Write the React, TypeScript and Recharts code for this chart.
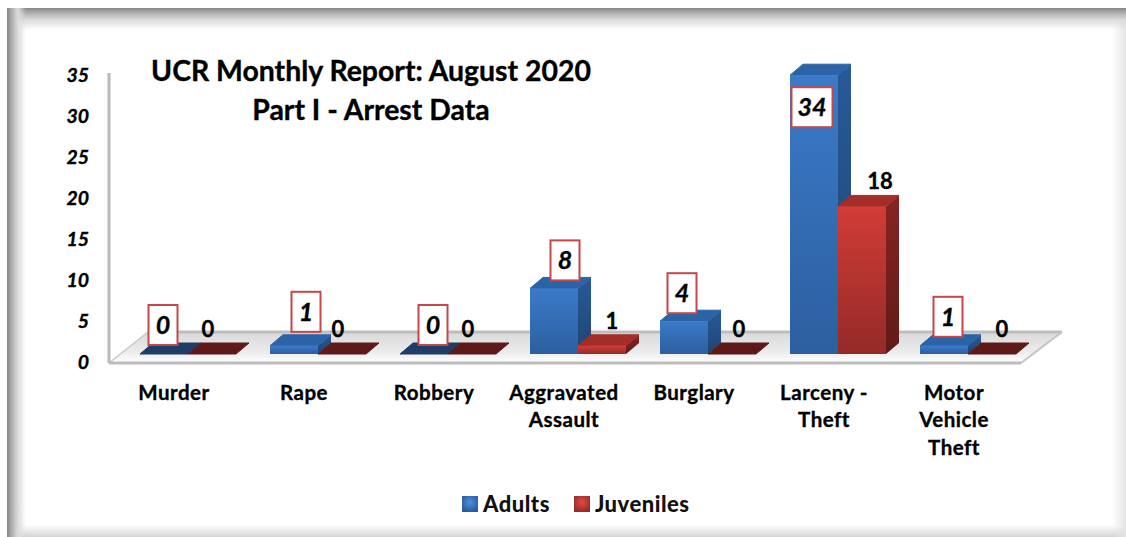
import React from 'react';
import { BarChart, Bar, XAxis, YAxis, Legend, LabelList, usePlotArea } from 'recharts';

const categoryLines = [
  ['Murder'],
  ['Rape'],
  ['Robbery'],
  ['Aggravated', 'Assault'],
  ['Burglary'],
  ['Larceny -', 'Theft'],
  ['Motor', 'Vehicle', 'Theft'],
];
const adults = [0, 1, 0, 8, 4, 34, 1];
const juveniles = [0, 0, 0, 1, 0, 18, 0];
const yTicks = [0, 5, 10, 15, 20, 25, 30, 35];

// hand-placed label offsets, [dx from bar centre, dy from front top of bar]
const adultNudges = [[-1, -9], [12, -14], [9, -9], [11, -8], [-2, -8], [-2, 52], [4, -9]];
const juvenileNudges = [-4, -4, -4, 10, 7, 18, 10];

const chartData = categoryLines.map((lines, i) => ({
  name: lines.join(' '),
  adults: adults[i],
  juveniles: juveniles[i],
}));

const FONT = 'Lato, sans-serif';
const WIDTH = 1126;
const HEIGHT = 537;

// bars stand back from the axis plane, part way into the floor
const SHIFT_X = 14;
const SHIFT_Y = -9;
const DEPTH_X = 13;
const DEPTH_Y = 11;

// thin outline to thicken the bold text
const heavy = { stroke: '#000', strokeWidth: 0.35 };

const Prism = (props: any) => {
  const { x, y, width, height, tone } = props;
  const left = x + SHIFT_X;
  const right = left + width;
  const top = y + SHIFT_Y;
  const bottom = top + height;
  const flat = height < 1;
  const blue = tone === 'blue';
  const topFill = flat ? (blue ? '#1f3d66' : '#5e1a18') : blue ? '#2c62a6' : '#a52d29';
  return (
    <g strokeLinejoin="round">
      <polygon
        points={`${right},${top} ${right + DEPTH_X},${top - DEPTH_Y} ${right + DEPTH_X},${bottom - DEPTH_Y} ${right},${bottom}`}
        fill={`url(#${tone}Side)`}
      />
      <polygon
        points={`${left},${top} ${left + DEPTH_X},${top - DEPTH_Y} ${right + DEPTH_X},${top - DEPTH_Y} ${right},${top}`}
        fill={topFill}
        stroke={topFill}
        strokeWidth={1}
      />
      {!flat && <rect x={left} y={top} width={width} height={height} fill={`url(#${tone}Front)`} />}
    </g>
  );
};

// back edge, side wall and floor of the box the bars stand in
const Floor = () => {
  const plot = usePlotArea();
  if (!plot) return null;
  const l = plot.x;
  const b = plot.y + plot.height;
  const r = plot.x + plot.width + 2;
  const backL = l + 39;
  const backR = r + 41;
  const backY = b - 31;
  return (
    <g>
      <polygon
        points={`${l},${b} ${backL},${backY} ${backR},${backY} ${r},${b}`}
        fill="url(#floorFill)"
      />
      <line x1={backL} y1={backY} x2={backR} y2={backY} stroke="#bdbdbd" strokeWidth={3} />
      <line x1={l} y1={b} x2={backL} y2={backY} stroke="#c8c8c8" strokeWidth={1.5} />
      <line x1={r} y1={b} x2={backR} y2={backY} stroke="#c4c4c4" strokeWidth={2} />
      <line x1={l} y1={b} x2={r} y2={b} stroke="#bcbcbc" strokeWidth={3} />
      <line x1={l} y1={plot.y - 3} x2={l} y2={b} stroke="#b8b8b8" strokeWidth={3} />
    </g>
  );
};

const CategoryTick = ({ x, y, index }: any) => (
  <text x={x} textAnchor="middle" fontFamily={FONT} fontWeight={700} fontSize={20.5} letterSpacing={0.5} fill="#000" {...heavy}>
    {categoryLines[index].map((line, i) => (
      <tspan key={line} x={x} y={y + 34.5 + i * 27.5}>
        {line}
      </tspan>
    ))}
  </text>
);

const AdultLabel = ({ x, y, width, value, index }: any) => {
  const [dx, dy] = adultNudges[index];
  const text = String(value);
  const boxW = text.length > 1 ? 41 : 29;
  const boxH = 40;
  const cx = x + SHIFT_X + width / 2 + dx;
  const boxBottom = y + SHIFT_Y + dy;
  return (
    <g>
      <rect
        x={cx - boxW / 2}
        y={boxBottom - boxH}
        width={boxW}
        height={boxH}
        fill="#fff"
        stroke="#c4474a"
        strokeWidth={2}
      />
      <text
        x={cx}
        y={boxBottom - boxH / 2 + 9}
        textAnchor="middle"
        fontFamily={FONT}
        fontWeight={700}
        fontStyle="italic"
        fontSize={25}
        fill="#000"
        {...heavy}
      >
        {text}
      </text>
    </g>
  );
};

const JuvenileLabel = ({ x, y, width, value, index }: any) => (
  <text
    x={x + SHIFT_X + width / 2 + juvenileNudges[index]}
    y={y + SHIFT_Y - 17}
    textAnchor="middle"
    fontFamily={FONT}
    fontWeight={700}
    fontSize={22}
    fill="#000"
    {...heavy}
  >
    {value}
  </text>
);

const swatchStyle = (mid: string, edge: string): React.CSSProperties => ({
  display: 'inline-block',
  width: 16,
  height: 16,
  marginRight: 5,
  background: `radial-gradient(circle at 50% 40%, ${mid} 0%, ${edge} 80%)`,
});

const LegendRow = () => (
  <div style={{ display: 'flex', alignItems: 'center', fontFamily: FONT, fontWeight: 900, fontSize: 22, color: '#111', letterSpacing: 0.5 }}>
    <span style={swatchStyle('#4f8fdc', '#285a99')} />
    <span style={{ marginRight: 24 }}>Adults</span>
    <span style={swatchStyle('#dd4a44', '#962a27')} />
    <span>Juveniles</span>
  </div>
);

export default function App() {
  return (
    <div
      style={{
        position: 'absolute',
        left: 0,
        top: 0,
        width: WIDTH,
        height: HEIGHT,
        background: '#fff',
        overflow: 'hidden',
      }}
    >
      {/* soft bevelled frame around the chart */}
      <div
        style={{
          position: 'absolute',
          left: 7,
          top: 8,
          width: WIDTH - 7,
          height: HEIGHT - 8,
          backgroundImage:
            'linear-gradient(to right, #858585 0px, #a8a8a8 4px, #dcdcdc 11px, rgba(255,255,255,0) 19px),' +
            'linear-gradient(to bottom, #858585 0px, #a8a8a8 4px, #dcdcdc 12px, rgba(255,255,255,0) 22px),' +
            'linear-gradient(to left, #e4e4e4 0px, rgba(255,255,255,0) 14px),' +
            'linear-gradient(to top, #d4d4d4 0px, rgba(255,255,255,0) 12px)',
        }}
      />
      <div style={{ position: 'absolute', left: 0, top: 0 }}>
        <BarChart
          width={WIDTH}
          height={HEIGHT}
          data={chartData}
          barSize={48}
          barGap={0}
          margin={{ top: 76, right: 107, bottom: 114, left: 49 }}
        >
          <defs>
            <linearGradient id="blueFront" x1="0" y1="0" x2="0" y2="1">
              <stop offset="0%" stopColor="#3b7ac9" />
              <stop offset="100%" stopColor="#2c5f9f" />
            </linearGradient>
            <linearGradient id="blueSide" x1="0" y1="0" x2="0" y2="1">
              <stop offset="0%" stopColor="#285a98" />
              <stop offset="100%" stopColor="#1f4572" />
            </linearGradient>
            <linearGradient id="redFront" x1="0" y1="0" x2="0" y2="1">
              <stop offset="0%" stopColor="#d23c36" />
              <stop offset="100%" stopColor="#942a28" />
            </linearGradient>
            <linearGradient id="redSide" x1="0" y1="0" x2="0" y2="1">
              <stop offset="0%" stopColor="#862522" />
              <stop offset="100%" stopColor="#611a18" />
            </linearGradient>
            <linearGradient id="floorFill" x1="0" y1="0" x2="0" y2="1">
              <stop offset="0%" stopColor="#d9d9d9" />
              <stop offset="65%" stopColor="#ececec" />
              <stop offset="100%" stopColor="#ffffff" />
            </linearGradient>
          </defs>
          <Floor />
          <XAxis dataKey="name" axisLine={false} tickLine={false} tickSize={0} height={60} interval={0} tick={<CategoryTick />} />
          <YAxis
            domain={[0, 35]}
            ticks={yTicks}
            width={60}
            axisLine={false}
            tickLine={false}
            tickSize={0}
            tickMargin={20}
            tick={{ fontFamily: FONT, fontWeight: 700, fontStyle: 'italic', fontSize: 19.5, fill: '#000', dy: -1, ...heavy }}
          />
          <Legend
            verticalAlign="middle"
            align="center"
            wrapperStyle={{ top: 490, left: 462, width: 'auto' }}
            content={<LegendRow />}
          />
          <Bar dataKey="adults" name="Adults" isAnimationActive={false} shape={<Prism tone="blue" />}>
            <LabelList dataKey="adults" content={<AdultLabel />} />
          </Bar>
          <Bar dataKey="juveniles" name="Juveniles" isAnimationActive={false} shape={<Prism tone="red" />}>
            <LabelList dataKey="juveniles" content={<JuvenileLabel />} />
          </Bar>
          <text x={371} y={81} textAnchor="middle" fontFamily={FONT} fontWeight={700} fontSize={28.4} fill="#000" {...heavy}>
            UCR Monthly Report: August 2020
          </text>
          <text x={371} y={120} textAnchor="middle" fontFamily={FONT} fontWeight={700} fontSize={28.4} fill="#000" {...heavy}>
            Part I - Arrest Data
          </text>
        </BarChart>
      </div>
    </div>
  );
}
